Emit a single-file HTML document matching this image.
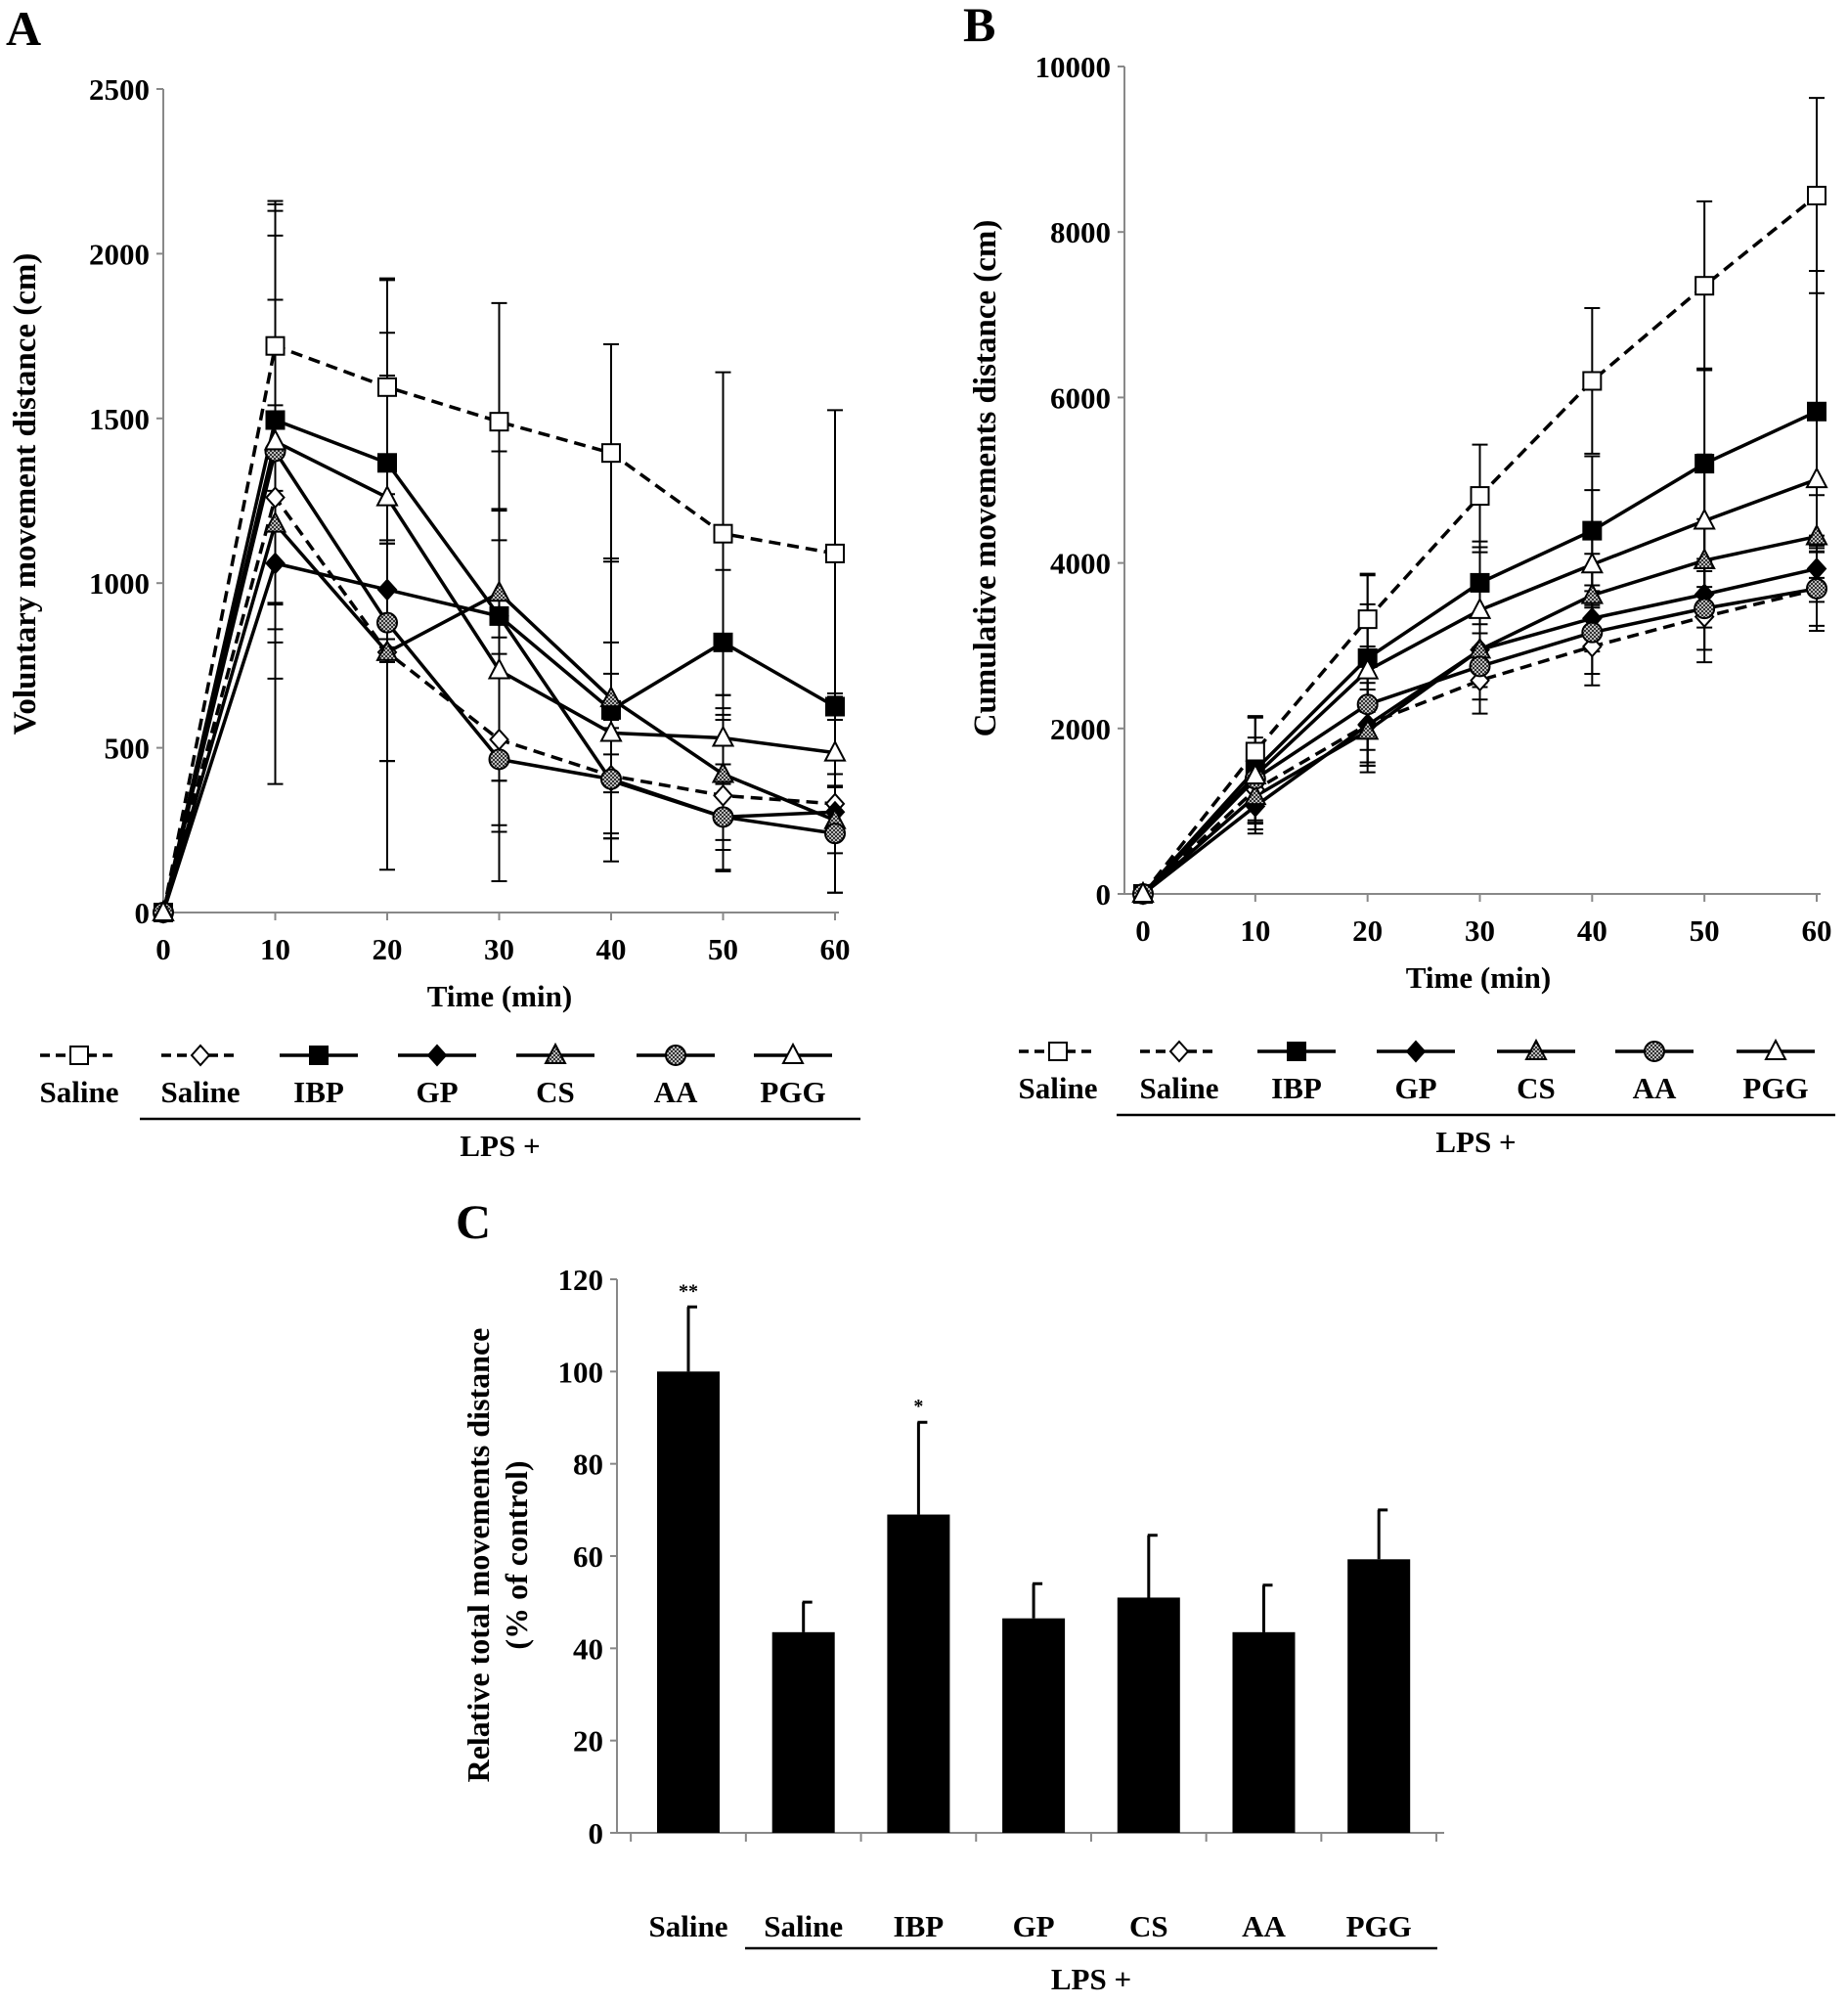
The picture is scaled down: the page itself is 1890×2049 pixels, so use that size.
<!DOCTYPE html>
<html><head><meta charset="utf-8"><style>
body{margin:0;background:#fff}
svg text{font-family:"Liberation Serif",serif;font-weight:bold;fill:#000}
</style></head><body>
<svg id="fig" width="1890" height="2044" viewBox="0 0 1890 2044" xmlns="http://www.w3.org/2000/svg">
<defs>
<pattern id="dots" width="4" height="4" patternUnits="userSpaceOnUse"><rect width="4" height="4" fill="#bbb"/><rect width="2" height="2" fill="#333"/><rect x="2" y="2" width="2" height="2" fill="#333"/></pattern>
</defs>
<g id="A"></g>
<g id="B"></g>
<g id="C"></g>
</svg>
<script>
const times=[0,10,20,30,40,50,60];
const seriesNames=["Saline","LPS+Saline","IBP","GP","CS","AA","PGG"];
const legendLabels=["Saline","Saline","IBP","GP","CS","AA","PGG"];
const markers=["sqOpen","diaOpen","sqFill","diaFill","triGray","circGray","triOpen"];
const dashed=[true,true,false,false,false,false,false];
// Panel A
const aSaline=[0,1720,1595,1490,1395,1150,1090];
const aLpsSaline=[0,1260,790,525,415,355,330];
const aIBP=[0,1495,1365,900,615,820,625];
const aGP=[0,1060,980,900,400,290,305];
const aCS=[0,1180,790,970,650,420,280];
const aAA=[0,1400,880,465,405,290,240];
const aPGG=[0,1430,1260,735,545,530,485];
const aErrSaline=[0,440,325,360,330,490,435];
const aErrLpsSaline=[0,870,330,260,190,230,270];
const aErrIBP=[0,560,560,500,460,220,40];
const aErrGP=[0,200,150,500,160,100,80];
const aErrCS=[0,360,330,250,170,200,100];
const aErrAA=[0,460,750,370,180,160,180];
const aErrPGG=[0,720,500,490,180,130,180];
const aTicks=[0,500,1000,1500,2000,2500];
// Panel B
const bSaline=[0,1720,3320,4810,6200,7350,8440];
const bLpsSaline=[0,1260,2050,2580,2990,3350,3680];
const bIBP=[0,1500,2850,3760,4390,5200,5830];
const bGP=[0,1060,2040,2950,3330,3620,3930];
const bCS=[0,1180,1970,2950,3610,4030,4320];
const bAA=[0,1390,2290,2750,3160,3450,3690];
const bPGG=[0,1430,2700,3430,3980,4510,5010];
const bErrSaline=[0,420,550,620,880,1020,1180];
const bErrLpsSaline=[0,400,500,400,470,550,500];
const bErrIBP=[0,650,650,500,900,1150,1700];
const bErrGP=[0,200,300,400,400,400,400];
const bErrCS=[0,400,500,450,500,500,500];
const bErrAA=[0,500,700,400,500,500,450];
const bErrPGG=[0,700,1150,700,900,800,800];
const bTicks=[0,2000,4000,6000,8000,10000];
// Panel C
const cCategories=["Saline","Saline","IBP","GP","CS","AA","PGG"];
const cValues=[100,43.5,69,46.5,51,43.5,59.3];
const cErrTop=[114,50,89,54,64.5,53.7,70];
const cStars=["**","","*","","","",""];
const cTicks=[0,20,40,60,80,100,120];

const NS="http://www.w3.org/2000/svg";
function mk(parent,tag,attrs,text){const e=document.createElementNS(NS,tag);for(const k in attrs)e.setAttribute(k,attrs[k]);if(text!==undefined)e.textContent=text;parent.appendChild(e);return e;}

function marker(g,type,x,y){
  const s=9;let e;
  if(type.startsWith("sq")) e=mk(g,"rect",{x:x-s,y:y-s,width:2*s,height:2*s,fill:type==="sqFill"?"#000":"#fff",stroke:"#000","stroke-width":2});
  else if(type.startsWith("dia")) e=mk(g,"polygon",{points:`${x},${y-s-1} ${x+s},${y} ${x},${y+s+1} ${x-s},${y}`,fill:type==="diaFill"?"#000":"#fff",stroke:"#000","stroke-width":2});
  else if(type.startsWith("tri")) e=mk(g,"polygon",{points:`${x},${y-s-2} ${x+s+1},${y+s-1} ${x-s-1},${y+s-1}`,fill:type==="triGray"?"url(#dots)":"#fff",stroke:"#000","stroke-width":2});
  else e=mk(g,"circle",{cx:x,cy:y,r:s+1,fill:"url(#dots)",stroke:"#000","stroke-width":2});
  
  
}

function linePanel(gid,cfg){
  const g=document.getElementById(gid);
  const X=t=>cfg.x0+(t-0)/60*(cfg.x1-cfg.x0);
  const Y=v=>cfg.y0-v/cfg.ymax*(cfg.y0-cfg.y1);
  let t=mk(g,"text",{x:cfg.letterX,y:cfg.letterY,"font-size":50},cfg.letter);
  
  let ax=mk(g,"line",{x1:cfg.axX,y1:Y(cfg.ymax),x2:cfg.axX,y2:cfg.y0,stroke:"#888","stroke-width":2});
  
  let xa=mk(g,"line",{x1:cfg.axX,y1:cfg.y0,x2:X(60)+4,y2:cfg.y0,stroke:"#888","stroke-width":2});
  
  cfg.ticks.forEach(v=>{
    mk(g,"line",{x1:cfg.axX-7,y1:Y(v),x2:cfg.axX,y2:Y(v),stroke:"#888","stroke-width":2});
    let l=mk(g,"text",{x:cfg.axX-14,y:Y(v)+11,"font-size":31,"text-anchor":"end"},v);
    
  });
  times.forEach(tm=>{
    mk(g,"line",{x1:X(tm),y1:cfg.y0,x2:X(tm),y2:cfg.y0+8,stroke:"#888","stroke-width":2});
    let l=mk(g,"text",{x:X(tm),y:cfg.y0+48,"font-size":31,"text-anchor":"middle"},tm);
    
  });
  let xt=mk(g,"text",{x:cfg.xTitleX,y:cfg.y0+96,"font-size":31,"text-anchor":"middle"},"Time (min)");
  
  let yt=mk(g,"text",{x:0,y:0,"font-size":33,"text-anchor":"middle",transform:`translate(${cfg.yTitleX},${cfg.yTitleY}) rotate(-90)`},cfg.yTitle);
  
  cfg.data.forEach((d,i)=>{
    const err=cfg.errs[i];
    times.forEach((tm,j)=>{ if(!err[j])return;
      const x=X(tm),a=Y(d[j]+err[j]),b=Y(Math.max(0,d[j]-err[j]));
      let e=mk(g,"path",{d:`M${x},${a}V${b}M${x-8},${a}H${x+8}M${x-8},${b}H${x+8}`,stroke:"#000","stroke-width":2,fill:"none"});
      
    });
  });
  cfg.data.forEach((d,i)=>{
    const pts=d.map((v,j)=>X(times[j])+","+Y(v)).join(" ");
    let p=mk(g,"polyline",{points:pts,fill:"none",stroke:"#000","stroke-width":3.5,"stroke-dasharray":dashed[i]?"12 7":"none"});
    
    
  });
  cfg.data.forEach((d,i)=>d.forEach((v,j)=>marker(g,markers[i],X(times[j]),Y(v))));
  cfg.legX.forEach((lx,i)=>{
    const lg=mk(g,"g",{});
    
    mk(lg,"line",{x1:lx-40,y1:cfg.legY,x2:lx+40,y2:cfg.legY,stroke:"#000","stroke-width":3.5,"stroke-dasharray":dashed[i]?"10 6":"none"});
    marker(lg,markers[i],lx,cfg.legY);
    mk(lg,"text",{x:lx,y:cfg.legY+48,"font-size":31,"text-anchor":"middle"},legendLabels[i]);
  });
  let u=mk(g,"line",{x1:cfg.ulX1,y1:cfg.ulY,x2:cfg.ulX2,y2:cfg.ulY,stroke:"#000","stroke-width":2.5});
  
  let lp=mk(g,"text",{x:(cfg.ulX1+cfg.ulX2)/2,y:cfg.ulY+38,"font-size":31,"text-anchor":"middle"},"LPS +");
  
}

linePanel("A",{letter:"A",letterX:6,letterY:46,axX:167,x0:167,x1:854,y0:933,y1:91,ymax:2500,ticks:aTicks,
  xTitleX:511,yTitleX:36,yTitleY:505,yTitle:"Voluntary movement  distance (cm)",
  data:[aSaline,aLpsSaline,aIBP,aGP,aCS,aAA,aPGG],errs:[aErrSaline,aErrLpsSaline,aErrIBP,aErrGP,aErrCS,aErrAA,aErrPGG],
  legY:1079,legX:[81,205,326,447,568,691,811],ulX1:143,ulX2:880,ulY:1144});
linePanel("B",{letter:"B",letterX:985,letterY:42,axX:1150,x0:1169,x1:1858,y0:914,y1:68,ymax:10000,ticks:bTicks,
  xTitleX:1512,yTitleX:1018,yTitleY:489,yTitle:"Cumulative movements distance (cm)",
  data:[bSaline,bLpsSaline,bIBP,bGP,bCS,bAA,bPGG],errs:[bErrSaline,bErrLpsSaline,bErrIBP,bErrGP,bErrCS,bErrAA,bErrPGG],
  legY:1075,legX:[1082,1206,1326,1448,1571,1692,1816],ulX1:1142,ulX2:1877,ulY:1140});

(function(){
  const g=document.getElementById("C");
  const x0=631,x1=1477,y0=1874,yTop=1308,ymax=120;
  const w=117.7, first=704;
  const Y=v=>y0-v/ymax*(y0-yTop);
  let t=mk(g,"text",{x:466,y:1266,"font-size":50},"C");
  
  mk(g,"line",{x1:x0,y1:yTop,x2:x0,y2:y0,stroke:"#888","stroke-width":2});
  mk(g,"line",{x1:x0,y1:y0,x2:x1,y2:y0,stroke:"#888","stroke-width":2});
  cTicks.forEach(v=>{
    mk(g,"line",{x1:x0-7,y1:Y(v),x2:x0,y2:Y(v),stroke:"#888","stroke-width":2});
    let l=mk(g,"text",{x:x0-14,y:Y(v)+11,"font-size":31,"text-anchor":"end"},v);
    
  });
  for(let i=0;i<=cCategories.length;i++) mk(g,"line",{x1:first-w/2+i*w,y1:y0,x2:first-w/2+i*w,y2:y0+9,stroke:"#888","stroke-width":2});
  cCategories.forEach((c,i)=>{
    const cx=first+i*w;
    let eb=mk(g,"path",{d:`M${cx},${Y(cValues[i])}V${Y(cErrTop[i])}M${cx-1},${Y(cErrTop[i])}H${cx+9}`,stroke:"#000","stroke-width":3,fill:"none"});
    
    let r=mk(g,"rect",{x:cx-32,y:Y(cValues[i]),width:64,height:y0-Y(cValues[i]),fill:"#000"});
    
    if(cStars[i]){let s=mk(g,"text",{x:cx,y:Y(cErrTop[i])-10,"font-size":20,"text-anchor":"middle","font-weight":"normal"},cStars[i]);
      }
    let l=mk(g,"text",{x:cx,y:1980,"font-size":31,"text-anchor":"middle"},c);
    
  });
  let u=mk(g,"line",{x1:762,y1:1992,x2:1470,y2:1992,stroke:"#000","stroke-width":2.5});
  
  let lp=mk(g,"text",{x:1116,y:2034,"font-size":31,"text-anchor":"middle"},"LPS +");
  
  let y1=mk(g,"text",{x:0,y:0,"font-size":32,"text-anchor":"middle",transform:"translate(500,1590) rotate(-90)"},"Relative total movements distance");
  
  let y2=mk(g,"text",{x:0,y:0,"font-size":32,"text-anchor":"middle",transform:"translate(539,1590) rotate(-90)"},"(% of control)");
  
})();
</script>
</body></html>
